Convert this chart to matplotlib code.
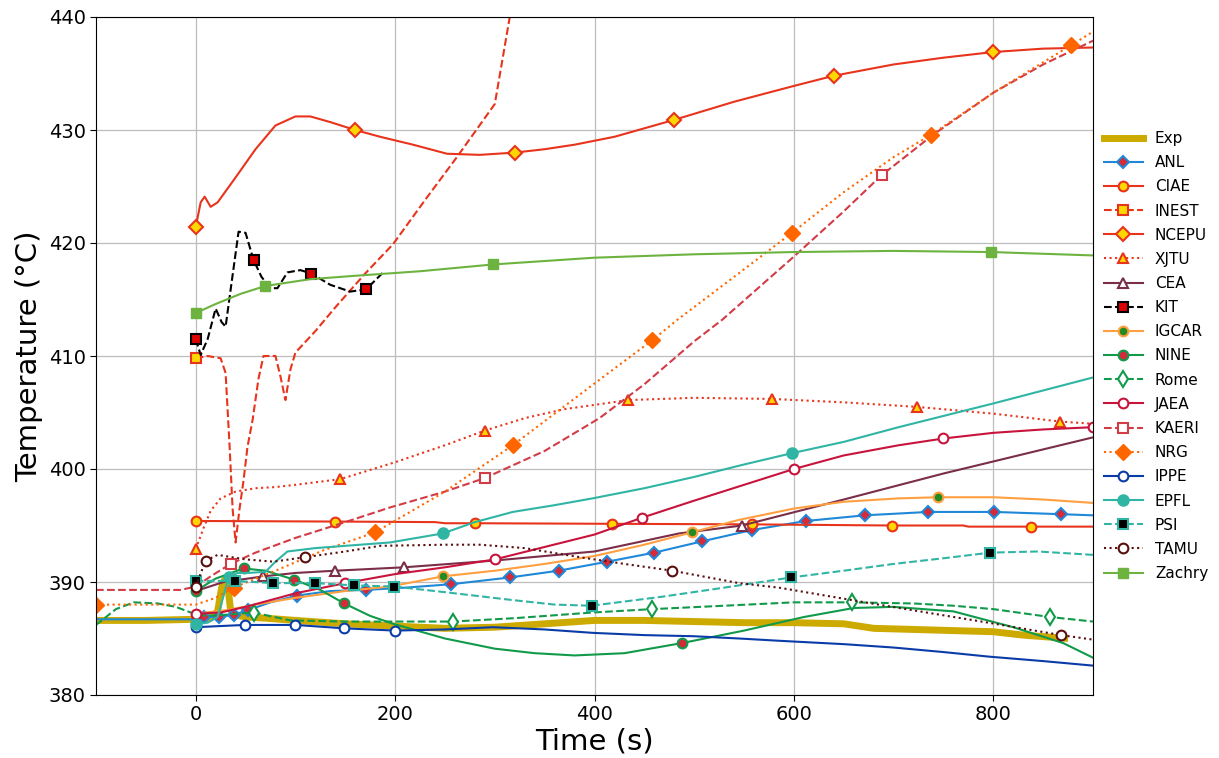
import matplotlib
matplotlib.use('Agg')
import matplotlib.pyplot as plt
from matplotlib.lines import Line2D

# ---- data (time in s, temperature in degC) ----
exp_t = [-100, -50, 0, 15, 22, 26, 29, 32, 35, 40, 50, 70, 100, 150, 200, 250, 300, 350, 400,
         450, 500, 550, 600, 650, 680, 720, 760, 800, 830, 875]
exp_T = [386.6, 386.6, 386.7, 386.8, 387.4, 389.5, 390.2, 389.8, 387.5, 387.1, 386.9, 386.8, 386.6,
         386.3, 386.1, 385.9, 386.0, 386.3, 386.6, 386.6, 386.5, 386.4, 386.4, 386.3, 385.9, 385.8,
         385.7, 385.6, 385.3, 385.0]

anl_t = [-100, -50, 0, 8, 23, 38, 52, 75, 102, 135, 171, 210, 256, 315, 364, 413, 460, 508, 558,
         612, 671, 735, 801, 868, 900]
anl_T = [386.7, 386.7, 386.7, 386.9, 386.9, 387.1, 387.5, 388.2, 388.8, 389.2, 389.3, 389.5, 389.8,
         390.4, 391.0, 391.8, 392.6, 393.6, 394.6, 395.4, 395.9, 396.2, 396.2, 396.0, 395.9]
anl_mk = [8, 23, 38, 52, 102, 171, 256, 315, 364, 413, 460, 508, 558, 612, 671, 735, 801, 868]

ciae_t = [0, 140, 240, 250, 280, 418, 558, 698, 770, 775, 838, 900]
ciae_T = [395.4, 395.35, 395.3, 395.2, 395.2, 395.15, 395.1, 395.0, 395.0, 394.9, 394.9, 394.9]
ciae_mk = [0, 140, 280, 418, 558, 698, 838]

inest_t = [0, 12, 25, 30, 34, 37, 40, 44, 48, 52, 57, 63, 68, 80, 85, 90, 95, 100, 120, 140, 170,
           198, 230, 262, 300, 315, 322]
inest_T = [409.8, 410.0, 409.8, 408.5, 402.0, 396.5, 393.5, 396.5, 399.0, 402.0, 404.3, 408.0,
           410.0, 410.0, 408.2, 406.1, 408.8, 410.3, 412.2, 414.3, 417.3, 419.9, 423.8, 427.6, 432.3,
           440.0, 444.0]
inest_mk = [0]

ncepu_t = [0, 5, 9, 15, 22, 40, 60, 80, 100, 115, 135, 160, 185, 218, 252, 285, 320, 350, 380, 420,
           480, 540, 600, 640, 700, 750, 800, 850, 900]
ncepu_T = [421.4, 423.6, 424.1, 423.2, 423.6, 425.8, 428.3, 430.4, 431.2, 431.2, 430.7, 430.0, 429.4,
           428.7, 427.9, 427.8, 428.0, 428.3, 428.7, 429.4, 430.9, 432.5, 433.9, 434.8, 435.8, 436.4,
           436.9, 437.2, 437.3]
ncepu_mk = [0, 160, 320, 480, 640, 800]

xjtu_t = [0, 8, 15, 25, 40, 60, 80, 100, 145, 200, 250, 290, 330, 370, 434, 500, 578, 650, 723, 800,
          867, 900]
xjtu_T = [392.9, 394.8, 396.3, 397.4, 398.0, 398.3, 398.4, 398.6, 399.1, 400.6, 402.1, 403.4, 404.5,
          405.3, 406.1, 406.3, 406.2, 405.9, 405.5, 404.9, 404.2, 404.0]
xjtu_mk = [0, 145, 290, 434, 578, 723, 867]

cea_t = [0, 28, 68, 100, 140, 209, 300, 400, 485, 548, 650, 750, 900]
cea_T = [389.2, 390.0, 390.5, 390.8, 391.0, 391.3, 391.9, 392.7, 394.3, 395.0, 397.3, 399.6, 402.8]
cea_mk = [68, 140, 209, 548]

kit_t = [0, 5, 12, 20, 26, 30, 36, 43, 50, 58, 66, 75, 82, 92, 105, 116, 135, 155, 171, 188]
kit_T = [411.5, 410.1, 411.5, 414.2, 413.0, 412.6, 416.5, 421.0, 420.9, 418.5, 417.0, 416.0, 416.0,
         417.4, 417.6, 417.3, 416.3, 415.7, 415.9, 417.4]
kit_mk = [0, 58, 116, 171]

igcar_t = [0, 30, 60, 100, 150, 195, 248, 300, 350, 400, 450, 498, 545, 600, 650, 705, 745, 800,
           850, 900]
igcar_T = [387.2, 387.5, 388.0, 388.6, 389.2, 389.6, 390.5, 391.0, 391.6, 392.3, 393.3, 394.4, 395.5,
           396.5, 397.1, 397.4, 397.5, 397.5, 397.3, 397.0]
igcar_mk = [248, 498, 745]

nine_t = [0, 20, 48, 70, 99, 125, 149, 175, 198, 250, 300, 340, 380, 430, 488, 550, 610, 660, 700,
          760, 820, 870, 900]
nine_T = [389.2, 390.3, 391.2, 391.0, 390.2, 389.3, 388.1, 387.0, 386.3, 385.0, 384.1, 383.7, 383.5,
          383.7, 384.6, 385.7, 386.9, 387.7, 387.8, 387.4, 386.0, 384.6, 383.3]
nine_mk = [0, 48, 99, 149, 488]

rome_t = [-100, -80, -62, -38, -20, -5, 10, 30, 58, 95, 150, 200, 258, 320, 398, 458, 530, 600, 658,
          720, 760, 800, 857, 900]
rome_T = [386.2, 387.6, 388.2, 388.1, 387.8, 387.3, 387.0, 387.1, 387.3, 386.6, 386.5, 386.5, 386.5,
          386.8, 387.3, 387.6, 387.9, 388.2, 388.2, 388.1, 387.9, 387.6, 386.9, 386.5]
rome_mk = [58, 258, 458, 658, 857]

jaea_t = [0, 25, 50, 100, 150, 200, 250, 300, 350, 400, 448, 500, 550, 600, 650, 705, 750, 800, 850,
          900]
jaea_T = [387.2, 387.3, 387.8, 389.0, 389.9, 390.7, 391.3, 392.0, 393.1, 394.2, 395.7, 397.2, 398.6,
          400.0, 401.2, 402.1, 402.7, 403.2, 403.5, 403.7]
jaea_mk = [0, 150, 300, 448, 600, 750, 900]

kaeri_t = [-100, -50, -15, 0, 15, 35, 60, 100, 150, 195, 250, 290, 350, 405, 450, 500, 528, 600, 650,
           688, 740, 800, 850, 900]
kaeri_T = [389.3, 389.3, 389.3, 389.6, 390.5, 391.6, 392.6, 393.9, 395.3, 396.6, 398.0, 399.2, 401.6,
           404.5, 407.5, 411.3, 413.2, 418.8, 422.8, 426.0, 429.6, 433.3, 435.8, 437.9]
kaeri_mk = [35, 290, 688]

nrg_t = [-100, -50, 0, 20, 38, 80, 128, 180, 250, 318, 405, 458, 483, 540, 598, 650, 700, 738, 800,
         878, 900]
nrg_T = [388.0, 388.0, 388.0, 388.6, 389.5, 391.0, 392.8, 394.4, 398.0, 402.1, 407.9, 411.4, 413.2,
         417.0, 420.9, 424.5, 427.6, 429.6, 433.3, 437.5, 438.7]
nrg_mk = [-100, 38, 180, 318, 458, 598, 738, 878]

ippe_t = [0, 49, 100, 149, 200, 250, 298, 350, 398, 450, 500, 545, 585, 650, 700, 750, 795, 850, 900]
ippe_T = [386.0, 386.2, 386.2, 385.9, 385.7, 385.8, 386.0, 385.8, 385.5, 385.3, 385.2, 385.0, 384.8,
          384.5, 384.2, 383.8, 383.4, 383.0, 382.6]
ippe_mk = [0, 49, 100, 149, 200]

epfl_t = [0, 12, 22, 28, 33, 42, 52, 70, 80, 92, 120, 150, 195, 248, 280, 318, 360, 398, 450, 500,
          550, 598, 650, 705, 800, 900]
epfl_T = [386.3, 386.4, 386.9, 388.8, 390.4, 390.8, 390.8, 390.9, 391.8, 392.7, 393.0, 393.2, 393.5,
          394.3, 395.3, 396.2, 396.8, 397.4, 398.3, 399.3, 400.4, 401.4, 402.4, 403.7, 405.8, 408.1]
epfl_mk = [0, 33, 248, 598]

psi_t = [0, 39, 78, 120, 159, 199, 250, 318, 360, 397, 468, 530, 597, 650, 700, 750, 797, 845, 900]
psi_T = [390.1, 390.1, 389.9, 389.9, 389.7, 389.6, 389.1, 388.4, 388.0, 387.9, 388.7, 389.5, 390.4,
         391.0, 391.6, 392.1, 392.6, 392.7, 392.4]
psi_mk = [0, 39, 78, 120, 159, 199, 397, 597, 797]

tamu_t = [0, 10, 22, 50, 78, 110, 150, 185, 250, 285, 330, 385, 430, 478, 545, 585, 678, 795, 868, 900]
tamu_T = [389.6, 391.9, 392.4, 392.0, 391.8, 392.2, 392.7, 393.2, 393.3, 393.3, 393.0, 392.2, 391.6,
          391.0, 389.9, 389.5, 388.1, 386.4, 385.3, 384.9]
tamu_mk = [0, 10, 110, 478, 868]

zachry_t = [0, 20, 45, 70, 115, 160, 225, 298, 400, 500, 600, 700, 798, 900]
zachry_T = [413.8, 414.6, 415.5, 416.2, 416.8, 417.1, 417.5, 418.1, 418.7, 419.0, 419.2, 419.3, 419.2,
            418.9]
zachry_mk = [0, 70, 298, 798]

RED = '#e8341c'

series = [
    ('Exp', exp_t, exp_T, [], dict(color='#ccaa00', lw=5)),
    ('ANL', anl_t, anl_T, anl_mk, dict(color='#1f88d8', ls='-', marker='D', ms=6.5, mfc='#d42a3a', mec='#1f88d8', mew=1.5)),
    ('CIAE', ciae_t, ciae_T, ciae_mk, dict(color=RED, ls='-', marker='o', ms=7, mfc='#ffd700', mec=RED, mew=1.5)),
    ('INEST', inest_t, inest_T, inest_mk, dict(color=RED, ls='--', marker='s', ms=7, mfc='#ffd700', mec=RED, mew=1.5)),
    ('NCEPU', ncepu_t, ncepu_T, ncepu_mk, dict(color=RED, ls='-', marker='D', ms=7, mfc='#ffd700', mec=RED, mew=1.5)),
    ('XJTU', xjtu_t, xjtu_T, xjtu_mk, dict(color=RED, ls=':', marker='^', ms=7, mfc='#ffd700', mec=RED, mew=1.5)),
    ('CEA', cea_t, cea_T, cea_mk, dict(color='#7a2e4a', ls='-', marker='^', ms=7, mfc='white', mec='#7a2e4a', mew=1.5)),
    ('KIT', kit_t, kit_T, kit_mk, dict(color='black', ls='--', marker='s', ms=7, mfc='#dd0000', mec='black', mew=1.5)),
    ('IGCAR', igcar_t, igcar_T, igcar_mk, dict(color='#ff9f40', ls='-', marker='o', ms=7, mfc='#228b22', mec='#ff9f40', mew=1.5)),
    ('NINE', nine_t, nine_T, nine_mk, dict(color='#119a4a', ls='-', marker='o', ms=7, mfc='#d42a3a', mec='#119a4a', mew=1.5)),
    ('Rome', rome_t, rome_T, rome_mk, dict(color='#119a4a', ls='--', marker='d', ms=8, mfc='white', mec='#119a4a', mew=1.5)),
    ('JAEA', jaea_t, jaea_T, jaea_mk, dict(color='#c8143c', ls='-', marker='o', ms=7, mfc='white', mec='#c8143c', mew=1.5)),
    ('KAERI', kaeri_t, kaeri_T, kaeri_mk, dict(color='#d23c46', ls='--', marker='s', ms=7, mfc='white', mec='#d23c46', mew=1.5)),
    ('NRG', nrg_t, nrg_T, nrg_mk, dict(color='#ff6600', ls=':', marker='D', ms=8, mfc='#ff6600', mec='#ff6600', mew=1)),
    ('IPPE', ippe_t, ippe_T, ippe_mk, dict(color='#0a3ca8', ls='-', marker='o', ms=7, mfc='white', mec='#0a3ca8', mew=1.5)),
    ('EPFL', epfl_t, epfl_T, epfl_mk, dict(color='#30b5a5', ls='-', marker='o', ms=8, mfc='#30b5a5', mec='#30b5a5', mew=1)),
    ('PSI', psi_t, psi_T, psi_mk, dict(color='#30b5a5', ls='--', marker='s', ms=7, mfc='black', mec='#30b5a5', mew=1.5)),
    ('TAMU', tamu_t, tamu_T, tamu_mk, dict(color='#5a0f0f', ls=':', marker='o', ms=7, mfc='white', mec='#5a0f0f', mew=1.5)),
    ('Zachry', zachry_t, zachry_T, zachry_mk, dict(color='#6db33f', ls='-', marker='s', ms=7, mfc='#6db33f', mec='#6db33f', mew=1)),
]

MARKER_KEYS = ('marker', 'ms', 'mfc', 'mec', 'mew')


def main():
    fig = plt.figure(figsize=(12.19, 7.58), dpi=100)
    ax = fig.add_axes([96 / 1219, 1 - 695 / 758, (1093 - 96) / 1219, (695 - 17) / 758])

    handles = []
    for name, t, T, marks, style in series:
        style = dict(style)
        lw = style.pop('lw', 1.5)
        idx = [t.index(m) for m in marks]
        if idx:
            ax.plot(t, T, lw=lw, markevery=idx, **style)
        else:
            ax.plot(t, T, lw=lw, solid_capstyle='butt',
                    **{k: v for k, v in style.items() if k not in MARKER_KEYS})
        # separate legend proxy (markevery index lists do not suit a 1-point legend line)
        handles.append(Line2D([], [], lw=lw, label=name, **style))

    ax.set_xlim(-100, 900)
    ax.set_ylim(380, 440)
    ax.set_xticks([0, 200, 400, 600, 800])
    ax.set_yticks(range(380, 441, 10))
    ax.grid(True, color='#bdbdbd', linewidth=0.9)
    ax.set_axisbelow(True)
    ax.tick_params(labelsize=14, length=4)
    ax.set_xlabel('Time (s)', fontsize=21, labelpad=2)
    ax.set_ylabel('Temperature (°C)', fontsize=21)

    ax.legend(handles=handles, loc='center left', bbox_to_anchor=(1.0, 0.5), frameon=False,
              fontsize=11, labelspacing=0.6, handlelength=2.55, borderaxespad=0.3, numpoints=1)

    fig.savefig('out.png', dpi=100)


if __name__ == "__main__":
    main()
